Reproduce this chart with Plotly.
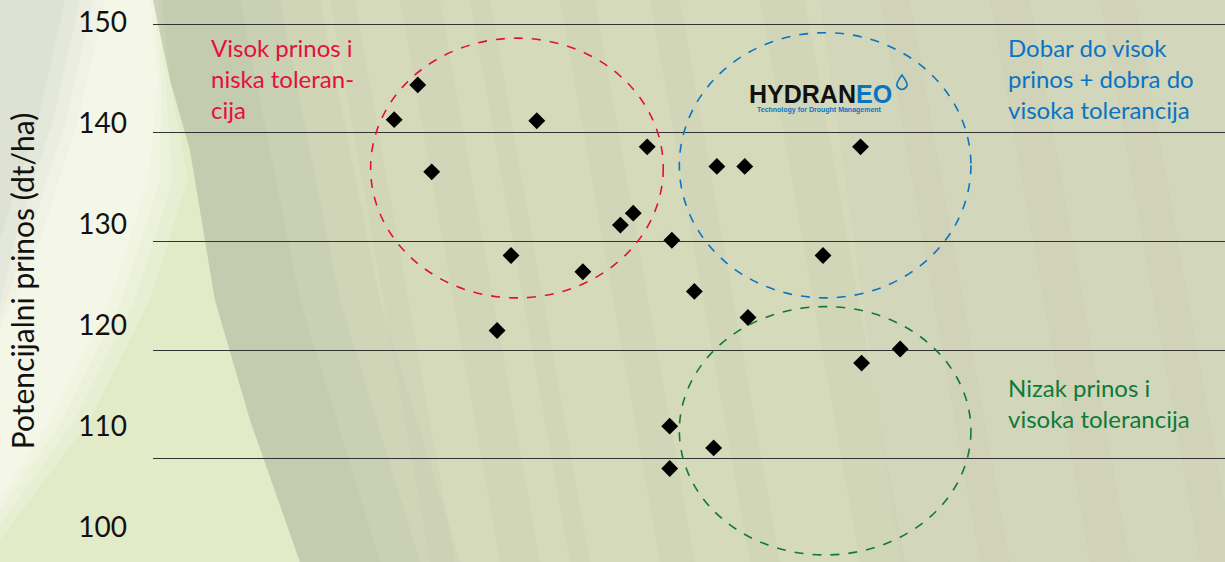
import plotly.graph_objects as go

# ---------------- data ----------------
tolerance = [22.5, 24.7, 26.0, 35.8, 33.4, 40.1, 32.1, 46.1, 44.8, 43.6, 48.4,
             50.5, 52.6, 55.2, 66.0, 62.5, 55.5, 66.1, 69.7, 48.2, 48.2, 52.3]
yield_dt = [141.2, 144.4, 136.4, 141.1, 128.7, 127.2, 121.8, 138.7, 132.6, 131.5, 130.1,
            125.4, 136.9, 136.9, 138.7, 128.7, 123.0, 118.8, 120.1, 113.0, 109.1, 111.0]
tick_vals = [100, 110, 120, 130, 140, 150]
tick_text = ["100", "110", "120", "130", "140", "150"]
grid_vals = [110, 120, 130, 140, 150]

W, H = 1225, 562
FONT = "Lato, 'Open Sans', sans-serif"
RED, BLUE, GREEN = "#E3103C", "#0A74C4", "#0E7A3A"


def P(px, py):
    return f"{px / W:.4f},{1 - py / H:.4f}"


def path(points, close=True):
    s = "M " + " L ".join(P(x, y) for x, y in points)
    return s + (" Z" if close else "")


fig = go.Figure()

fig.add_trace(go.Scatter(
    x=tolerance, y=yield_dt, mode="markers",
    marker=dict(symbol="diamond", size=13, color="black", line=dict(width=0)),
    xaxis="x", yaxis="y", showlegend=False, hoverinfo="x+y"))

shapes = []
bg = lambda pts, col: dict(type="path", xref="paper", yref="paper", layer="below",
                           path=path(pts), fillcolor=col, line=dict(width=0))
# background: photo approximation
boundary = [(153, 0), (170, 80), (190, 150), (215, 300), (250, 420), (300, 562)]
shapes.append(bg([(0, 0)] + boundary + [(0, 562)], "#e2eac8"))
# grey top-left corner (feathered)
for k, op in [(30, 0.35), (15, 0.45), (0, 0.6)]:
    shapes.append(bg([(0, 0), (105 + k, 0), (78 + k, 120), (38 + k, 240), (0, 320 + k)],
                     f"rgba(222,225,214,{op})"))
# bright glow band (feathered)
for k, op in [(40, 0.25), (25, 0.3), (12, 0.4), (0, 0.55)]:
    shapes.append(bg([(105 - k, 0), (150 + k * 0.3, 0), (158 + k * 0.3, 80), (148 + k, 180),
                      (110 + k, 300), (50 + k, 420), (0, 500 + k),
                      (0, 330 - k), (40 - k, 240), (78 - k, 120)],
                     f"rgba(248,250,236,{op})"))
# darker shade next to the boundary (feathered)
for k, op in [(80, 0.15), (40, 0.2), (0, 0.25)]:
    shapes.append(bg(boundary + [(380 + k, 562), (300 + k, 300), (240 + k, 0)],
                     f"rgba(180,190,165,{op})"))
# subtle diagonal streaks
for x0, w in [(330, 25), (400, 40), (470, 20), (560, 35), (650, 30), (760, 45),
              (880, 30), (990, 40), (1100, 35)]:
    shapes.append(bg([(x0, 0), (x0 + w, 0), (x0 + w + 100, 562), (x0 + 100, 562)],
                     "rgba(165,176,155,0.07)"))
# right side greyer tone
shapes.append(bg([(820, 0), (1225, 0), (1225, 562), (900, 562)], "rgba(205,205,185,0.25)"))

# group ellipses (data coordinates)
shapes.append(dict(type="circle", xref="x", yref="y", x0=20.3, x1=47.6, y0=124.8, y1=148.7,
                   line=dict(color=RED, width=1.6, dash="dash")))
shapes.append(dict(type="circle", xref="x", yref="y", x0=49.1, x1=76.3, y0=124.8, y1=149.2,
                   line=dict(color=BLUE, width=1.6, dash="dash")))
shapes.append(dict(type="circle", xref="x", yref="y", x0=49.1, x1=76.3, y0=101.15, y1=124.0,
                   line=dict(color=GREEN, width=1.6, dash="dash")))
# logo droplet
shapes.append(dict(type="path", xref="paper", yref="paper",
                   path="M " + P(902, 75) + " Q " + P(896, 83) + " " + P(897, 86) +
                        " Q " + P(902, 93) + " " + P(907, 86) + " Q " + P(908, 83) + " " + P(902, 75) + " Z",
                   fillcolor="rgba(0,0,0,0)", line=dict(color=BLUE, width=1.6)))

annotations = [
    dict(text="Visok prinos i<br>niska toleran-<br>cija", xref="paper", yref="paper",
         x=209 / W, y=1 - 31 / H, xanchor="left", yanchor="top", align="left", showarrow=False,
         font=dict(family=FONT, size=24, color=RED)),
    dict(text="Dobar do visok<br>prinos + dobra do<br>visoka tolerancija", xref="paper", yref="paper",
         x=1006 / W, y=1 - 31 / H, xanchor="left", yanchor="top", align="left", showarrow=False,
         font=dict(family=FONT, size=24, color=BLUE)),
    dict(text="Nizak prinos i<br>visoka tolerancija", xref="paper", yref="paper",
         x=1006 / W, y=1 - 371 / H, xanchor="left", yanchor="top", align="left", showarrow=False,
         font=dict(family=FONT, size=24, color=GREEN)),
    dict(text="<b>HYDRAN<span style='color:#0A74C4'>EO</span></b>", xref="paper", yref="paper",
         x=820 / W, y=1 - 94 / H, xanchor="center", yanchor="middle", showarrow=False,
         font=dict(family="'Liberation Sans', Arial, sans-serif", size=25, color="#111111")),
    dict(text="<b>Technology for Drought Management</b>", xref="paper", yref="paper",
         x=819 / W, y=1 - 110 / H, xanchor="center", yanchor="middle", showarrow=False,
         font=dict(family="'Liberation Sans', Arial, sans-serif", size=7, color=BLUE)),
]

fig.update_layout(
    width=W, height=H,
    margin=dict(l=0, r=0, t=0, b=0),
    paper_bgcolor="#d5dabb",
    plot_bgcolor="rgba(0,0,0,0)",
    showlegend=False,
    shapes=shapes,
    annotations=annotations,
    xaxis=dict(domain=[153 / W, 1], range=[0, 100], visible=False, fixedrange=True),
    yaxis=dict(range=[100.5, 152.21], anchor="x", tickmode="array", tickvals=grid_vals,
               showticklabels=False, showgrid=True, gridcolor="#333333", gridwidth=1.4,
               zeroline=False, showline=False, ticks=""),
    yaxis2=dict(range=[96.5, 152.25], overlaying="y", anchor="x", side="left",
                tickmode="array", tickvals=tick_vals, ticktext=tick_text,
                showgrid=False, zeroline=False, showline=False, ticks="",
                ticklabelstandoff=25,
                tickfont=dict(family=FONT, size=28, color="#111111"),
                title=dict(text="Potencijalni prinos (dt/ha)", standoff=34,
                           font=dict(family=FONT, size=30, color="#111111"))),
)

# invisible trace to activate yaxis2
fig.add_trace(go.Scatter(x=[None], y=[None], xaxis="x", yaxis="y2", showlegend=False, hoverinfo="skip"))

fig.write_html("out.html", config={"displayModeBar": False},
               post_script="document.body.style.margin='0px';document.body.style.overflow='hidden';")
